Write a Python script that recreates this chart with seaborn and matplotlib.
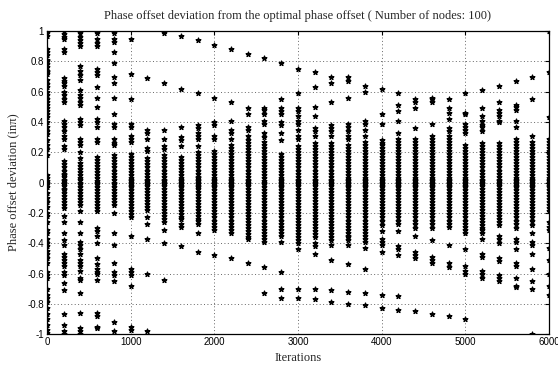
import matplotlib
matplotlib.use("Agg")
import matplotlib.pyplot as plt
import seaborn as sns
import pandas as pd

# Iteration at which each column of node deviations was recorded
iterations = [0, 200, 400, 600, 800, 1000, 1200, 1400, 1600, 1800, 2000,
              2200, 2400, 2600, 2800, 3000, 3200, 3400, 3600, 3800, 4000,
              4200, 4400, 4600, 4800, 5000, 5200, 5400, 5600, 5800, 6000]

# Deviation values (hundredths of pi), one list per iteration
dev_0 = [99, 97, 88, 86, 84, 81, 80, 78, 76, 74, 73, 72, 68, 65, 63, 60, 58, 55, 53, 51, 49, 47, 45, 43, 40, 37, 34,
         32, 28, 25, 22, 18, 5, 3, 1, 0, -1, -3, -7, -10, -13, -16, -20, -22, -26, -31, -33, -37, -40, -42, -45, -47,
         -50, -53, -59, -61, -63, -70, -74, -76, -79, -83, -87, -90, -94, -97, -99]
dev_200 = [100, 98, 96, 95, 88, 86, 69, 67, 66, 64, 60, 58, 55, 53, 41, 39, 37, 34, 31, 29, 24, 22,
           14, 12, 10, 8, 6, 5, 4, 2, 1, 0, -1, -2, -4, -5, -7, -9, -11, -13, -15, -17,
           -22, -26, -33, -38, -41, -47, -49, -51, -53, -55, -59, -61, -66, -71, -87, -94, -98, -100]
dev_400 = [99, 96, 94, 92, 90, 77, 74, 71, 68, 61, 58, 56, 53, 51, 42, 40, 38, 29, 27, 25, 20, 16,
           13, 11, 9, 7, 5, 3, 2, 0, -1, -3, -5, -7, -9, -11, -13, -15,
           -19, -26, -33, -39, -41, -44, -47, -51, -53, -55, -58, -63, -64, -73, -86, -96, -98, -100]
dev_600 = [100, 99, 95, 92, 90, 75, 73, 71, 63, 56, 50, 42, 40, 37, 29, 27,
           17, 15, 13, 11, 9, 7, 5, 3, 1, 0, -1, -3, -5, -7, -9, -11, -13, -15, -17, -19,
           -30, -32, -35, -40, -50, -54, -57, -59, -60, -64, -86, -88, -95, -96]
dev_800 = [99, 95, 93, 86, 79, 70, 66, 56, 45, 39, 37, 29, 26, 25,
           18, 16, 14, 12, 10, 8, 6, 4, 2, 0, -1, -3, -5, -7, -9, -11, -13, -15,
           -20, -33, -41, -53, -59, -61, -65, -92, -98]
dev_1000 = [95, 72, 55, 39, 37, 31, 29, 27,
            19, 17, 15, 13, 11, 9, 7, 5, 3, 2, 1, 0, -1, -2, -3, -5, -7, -9, -11, -13, -15, -17, -19, -21, -23,
            -35, -57, -59, -61, -68, -95, -97]
dev_1200 = [69, 35, 33, 29, 23, 21,
            16, 14, 12, 10, 8, 6, 4, 2, 1, 0, -1, -2, -4, -6, -8, -10, -12, -14, -16, -18,
            -23, -27, -37, -60, -98]
dev_1400 = [99, 66, 35, 29, 24, 22,
            18, 16, 14, 12, 10, 8, 6, 4, 2, 1, 0, -1, -2, -4, -6, -8, -10, -12, -14, -16, -18, -20, -22, -24,
            -26, -31, -40, -64]
dev_1600 = [97, 62, 37, 30, 28, 24,
            17, 15, 13, 11, 9, 7, 5, 3, 2, 1, 0, -1, -2, -3, -5, -7, -9, -11, -13, -15, -17, -19, -21, -23, -24,
            -27, -29, -42]
dev_1800 = [94, 59, 38, 36, 33, 31, 29, 24,
            20, 18, 16, 14, 12, 10, 8, 6, 4, 3, 2, 1, 0, -1, -2, -3, -4, -6, -8, -10, -12, -14, -16, -18, -20, -22,
            -24, -25, -27, -33, -46]
dev_2000 = [91, 56, 40, 38, 31, 29,
            21, 19, 17, 15, 13, 11, 9, 7, 5, 3, 2, 1, 0, -1, -2, -3, -5, -7, -9, -11, -13, -15, -17, -19, -21, -23,
            -25, -27, -29, -31, -48]
dev_2200 = [88, 53, 41, 35, 33, 29,
            25, 23, 21, 19, 17, 15, 13, 11, 9, 7, 5, 3, 2, 1, 0, -1, -2, -3, -5, -7, -9, -11, -13, -15, -17, -19,
            -21, -23, -25, -27, -29, -31, -33, -50]
dev_2400 = [85, 49, 45, 37, 35, 31,
            28, 26, 24, 22, 20, 18, 16, 14, 12, 10, 8, 6, 4, 2, 1, 0, -1, -2, -4, -6, -8, -10, -12, -14, -16, -18,
            -20, -22, -24, -26, -28, -30, -32, -34, -36, -37, -53]
dev_2600 = [82, 49, 48, 45, 41, 39, 33, 30,
            27, 25, 23, 21, 19, 17, 15, 13, 11, 9, 7, 5, 3, 1, 0, -1, -3, -5, -7, -9, -11, -13, -15, -17, -19, -21,
            -23, -25, -27, -29, -31, -33, -35, -37, -39, -56, -73]
dev_2800 = [79, 55, 49, 47, 45, 40, 38, 33, 28,
            19, 17, 15, 13, 11, 9, 7, 5, 3, 2, 1, 0, -1, -2, -3, -5, -7, -9, -11, -13, -15, -17, -19, -21, -23,
            -25, -27, -29, -31, -33, -35, -39, -59, -70, -76]
dev_3000 = [75, 59, 49, 47, 44, 41, 39, 35, 31, 29,
            24, 22, 20, 18, 16, 14, 12, 10, 8, 6, 4, 2, 1, 0, -1, -2, -4, -6, -8, -10, -12, -14, -16, -18, -20,
            -22, -24, -26, -28, -30, -32, -34, -36, -38, -40, -44, -70, -76]
dev_3200 = [73, 63, 50, 44, 36, 34, 31,
            26, 24, 22, 20, 18, 16, 14, 12, 10, 8, 6, 4, 2, 1, 0, -1, -2, -4, -6, -8, -10, -12, -14, -16, -18,
            -20, -22, -24, -26, -28, -30, -32, -34, -36, -40, -42, -47, -70, -77]
dev_3400 = [70, 66, 53, 38, 36, 34, 31,
            26, 24, 22, 20, 18, 16, 14, 12, 10, 8, 6, 4, 2, 1, 0, -1, -2, -4, -6, -8, -10, -12, -14, -16, -18,
            -20, -22, -24, -26, -28, -30, -32, -34, -36, -38, -41, -51, -71, -79]
dev_3600 = [70, 67, 56, 39, 37, 34, 31, 29,
            25, 23, 21, 19, 17, 15, 13, 11, 9, 7, 5, 3, 2, 1, 0, -1, -2, -3, -5, -7, -9, -11, -13, -15, -17, -19,
            -21, -23, -25, -27, -29, -31, -33, -35, -36, -38, -41, -54, -72, -80]
dev_3800 = [64, 60, 41, 39, 35, 31,
            27, 25, 23, 21, 19, 17, 15, 13, 11, 9, 7, 5, 3, 2, 1, 0, -1, -2, -3, -5, -7, -9, -11, -13, -15, -17,
            -19, -21, -23, -25, -27, -29, -31, -33, -35, -37, -39, -43, -57, -73, -81]
dev_4000 = [62, 45, 39, 28, 26,
            25, 23, 21, 19, 17, 15, 13, 11, 9, 7, 5, 3, 2, 1, 0, -1, -2, -3, -5, -7, -9, -11, -13, -15, -17, -19,
            -21, -23, -25, -28, -32, -37, -39, -41, -46, -74, -83]
dev_4200 = [59, 51, 47, 41, 33, 29,
            27, 25, 23, 21, 19, 17, 15, 13, 11, 9, 7, 5, 3, 2, 1, 0, -1, -2, -3, -5, -7, -9, -11, -13, -15, -17,
            -19, -21, -23, -25, -27, -32, -42, -44, -48, -75, -84]
dev_4400 = [55, 53, 49, 36, 29, 27,
            25, 23, 21, 19, 17, 15, 13, 11, 9, 7, 5, 3, 2, 1, 0, -1, -2, -3, -5, -7, -9, -11, -13, -15, -17, -19,
            -21, -23, -25, -27, -30, -35, -46, -48, -50, -85]
dev_4600 = [56, 55, 53, 39, 31, 29,
            27, 25, 23, 21, 19, 17, 15, 13, 11, 9, 7, 5, 3, 2, 1, 0, -1, -2, -3, -5, -7, -9, -11, -13, -15, -17,
            -19, -21, -23, -25, -27, -30, -38, -49, -51, -53, -87]
dev_4800 = [55, 49, 46, 42, 36, 34, 31,
            29, 27, 25, 23, 21, 19, 17, 15, 13, 11, 9, 7, 5, 3, 2, 1, 0, -1, -2, -3, -5, -7, -9, -11, -13, -15,
            -17, -19, -21, -23, -25, -27, -29, -41, -53, -56, -88]
dev_5000 = [59, 46, 45, 39, 37, 35, 33,
            25, 23, 21, 19, 17, 15, 13, 11, 9, 7, 5, 3, 2, 1, 0, -1, -2, -3, -5, -7, -9, -11, -13, -15, -17, -19,
            -21, -23, -25, -27, -29, -31, -33, -44, -55, -58, -60, -90]
dev_5200 = [61, 49, 44, 41, 38, 37, 34,
            26, 24, 22, 20, 18, 16, 14, 12, 10, 8, 6, 4, 2, 1, 0, -1, -2, -4, -6, -8, -10, -12, -14, -16, -18,
            -20, -22, -24, -26, -28, -30, -31, -33, -37, -47, -49, -58, -60, -63]
dev_5400 = [64, 53, 48, 46, 44, 41, 40,
            26, 24, 22, 20, 18, 16, 14, 12, 10, 8, 6, 4, 2, 1, 0, -1, -2, -4, -6, -8, -10, -12, -14, -16, -18,
            -20, -22, -24, -26, -28, -35, -37, -40, -50, -52, -61, -63, -65]
dev_5600 = [67, 51, 50, 48, 41, 37, 29, 27,
            25, 23, 21, 19, 17, 15, 13, 11, 9, 7, 5, 3, 2, 1, 0, -1, -2, -3, -5, -7, -9, -11, -13, -15, -17, -19,
            -21, -23, -25, -27, -30, -37, -39, -44, -53, -55, -63, -68, -69]
dev_5800 = [70, 55, 31, 27,
            25, 23, 21, 19, 17, 15, 13, 11, 9, 7, 5, 3, 2, 1, 0, -1, -2, -3, -5, -7, -9, -11, -13, -15, -17, -19,
            -21, -23, -25, -28, -33, -39, -41, -47, -57, -65, -70, -100]
dev_6000 = [100, 73, 43, 29, 27,
            25, 23, 21, 19, 17, 15, 13, 11, 9, 7, 5, 3, 2, 1, 0, -1, -2, -3, -5, -7, -9, -11, -13, -15, -17, -19,
            -26, -29, -31, -43, -51, -60, -68, -74]

columns = [dev_0, dev_200, dev_400, dev_600, dev_800, dev_1000, dev_1200, dev_1400, dev_1600,
           dev_1800, dev_2000, dev_2200, dev_2400, dev_2600, dev_2800, dev_3000, dev_3200,
           dev_3400, dev_3600, dev_3800, dev_4000, dev_4200, dev_4400, dev_4600, dev_4800,
           dev_5000, dev_5200, dev_5400, dev_5600, dev_5800, dev_6000]

x_ticks = [0, 1000, 2000, 3000, 4000, 5000, 6000]
y_ticks = [-1, -0.8, -0.6, -0.4, -0.2, 0, 0.2, 0.4, 0.6, 0.8, 1]
y_tick_labels = ["-1", "-0.8", "-0.6", "-0.4", "-0.2", "0", "0.2", "0.4", "0.6", "0.8", "1"]

rows = []
for it, vals in zip(iterations, columns):
    for v in vals:
        rows.append({"Iterations": it, "Deviation": v / 100.0})
df = pd.DataFrame(rows)

sns.set_style("white")
plt.rcParams["font.family"] = ["Liberation Sans", "DejaVu Sans"]

fig = plt.figure(figsize=(5.58, 3.66), dpi=100)
ax = fig.add_axes([0.084, 0.087, 0.900, 0.828])

sns.scatterplot(data=df, x="Iterations", y="Deviation", ax=ax, marker="*",
                color="black", s=13, linewidth=0.9, edgecolor="black", zorder=3)

ax.set_xlim(0, 6000)
ax.set_ylim(-1, 1)
ax.set_xticks(x_ticks)
ax.set_xticklabels([str(t) for t in x_ticks])
ax.set_yticks(y_ticks)
ax.set_yticklabels(y_tick_labels)
ax.tick_params(direction="in", length=3, width=0.8, labelsize=7, colors="black",
               top=True, right=True, pad=2)
ax.grid(True, linestyle=(0, (1, 2.5)), color="#666666", linewidth=0.7)
for sp in ax.spines.values():
    sp.set_color("black")
    sp.set_linewidth(0.9)

ax.set_xlabel("Iterations", family=["Liberation Serif", "DejaVu Serif"], fontsize=9, labelpad=4)
ax.set_ylabel("Phase offset deviation (in\u03c0)", family=["Liberation Serif", "DejaVu Serif"],
              fontsize=9, labelpad=6)
ax.set_title("Phase offset deviation from the optimal phase offset ( Number of nodes: 100)",
             family=["Liberation Serif", "DejaVu Serif"], fontsize=9, pad=9)

fig.savefig("out.png", dpi=100, facecolor="white")
